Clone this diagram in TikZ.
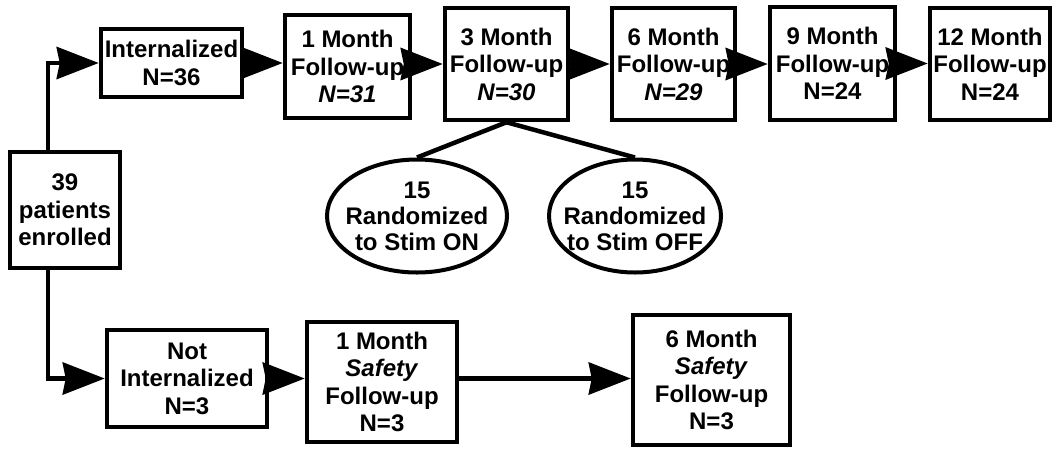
\documentclass[tikz,border=0pt]{standalone}
\usepackage{fontspec}
\setmainfont{Liberation Sans}
\usetikzlibrary{arrows.meta,shapes.geometric}
\begin{document}
\begin{tikzpicture}[x=1pt,y=-1pt,
  box/.style={draw, line width=4.5pt, inner sep=0pt, align=center,
    font=\fontsize{24}{27.5}\selectfont\bfseries},
  oval/.style={ellipse, draw, line width=4pt, inner sep=-12pt, align=center,
    font=\fontsize{24}{26}\selectfont\bfseries},
  arr/.style={line width=4.5pt, -{Stealth[length=42pt,width=32pt,inset=3pt]}},
  ln/.style={line width=4.5pt}]
\useasboundingbox (0,0) rectangle (1054,448);

\node[box, minimum width=110pt, minimum height=116pt] (enr) at (65,210) {39\\patients\\enrolled};
\node[box, minimum width=141pt, minimum height=68pt] (intl) at (171.5,63) {Internalized\\N=36};
\node[box, minimum width=125pt, minimum height=103pt] (m1) at (347.5,66.5) {1 Month\\Follow-up\\\textit{N=31}};
\node[box, minimum width=123pt, minimum height=112pt] (m3) at (506.5,64) {3 Month\\Follow-up\\\textit{N=30}};
\node[box, minimum width=123pt, minimum height=112pt] (m6) at (673.5,64) {6 Month\\Follow-up\\\textit{N=29}};
\node[box, minimum width=125pt, minimum height=113pt] (m9) at (832.5,63.5) {9 Month\\Follow-up\\N=24};
\node[box, minimum width=120pt, minimum height=112pt] (m12) at (990,64) {12 Month\\Follow-up\\N=24};

\node[oval, minimum width=180pt, minimum height=113pt] (on) at (417,216) {15\\Randomized\\to Stim ON};
\node[oval, minimum width=172pt, minimum height=113pt] (off) at (635,216) {15\\Randomized\\to Stim OFF};

\node[box, minimum width=160pt, minimum height=97pt] (notint) at (187,378.5) {Not\\Internalized\\N=3};
\node[box, minimum width=150pt, minimum height=120pt] (s1) at (382,382) {1 Month\\\textit{Safety}\\Follow-up\\N=3};
\node[box, minimum width=157pt, minimum height=130pt] (s6) at (711.5,380) {6 Month\\\textit{Safety}\\Follow-up\\N=3};

\draw[arr] ([xshift=40pt]enr.north west) |- (intl.west);
\draw[arr] ([xshift=40pt]enr.south west) |- (notint.west);
\draw[arr] (intl.east) -- (intl.east -| m1.west);
\draw[arr] (m1.east |- m3.west) -- (m3.west);
\draw[arr] (m3.east) -- (m6.west);
\draw[arr] (m6.east) -- (m6.east -| m9.west);
\draw[arr] (m9.east) -- (m9.east -| m12.west);
\draw[ln] (m3.south) -- (on.north);
\draw[ln] (m3.south) -- (off.north);
\draw[arr] (notint.east) -- (notint.east -| s1.west);
\draw[arr] (s1.east |- notint.east) -- (notint.east -| s6.west);
\end{tikzpicture}
\end{document}
